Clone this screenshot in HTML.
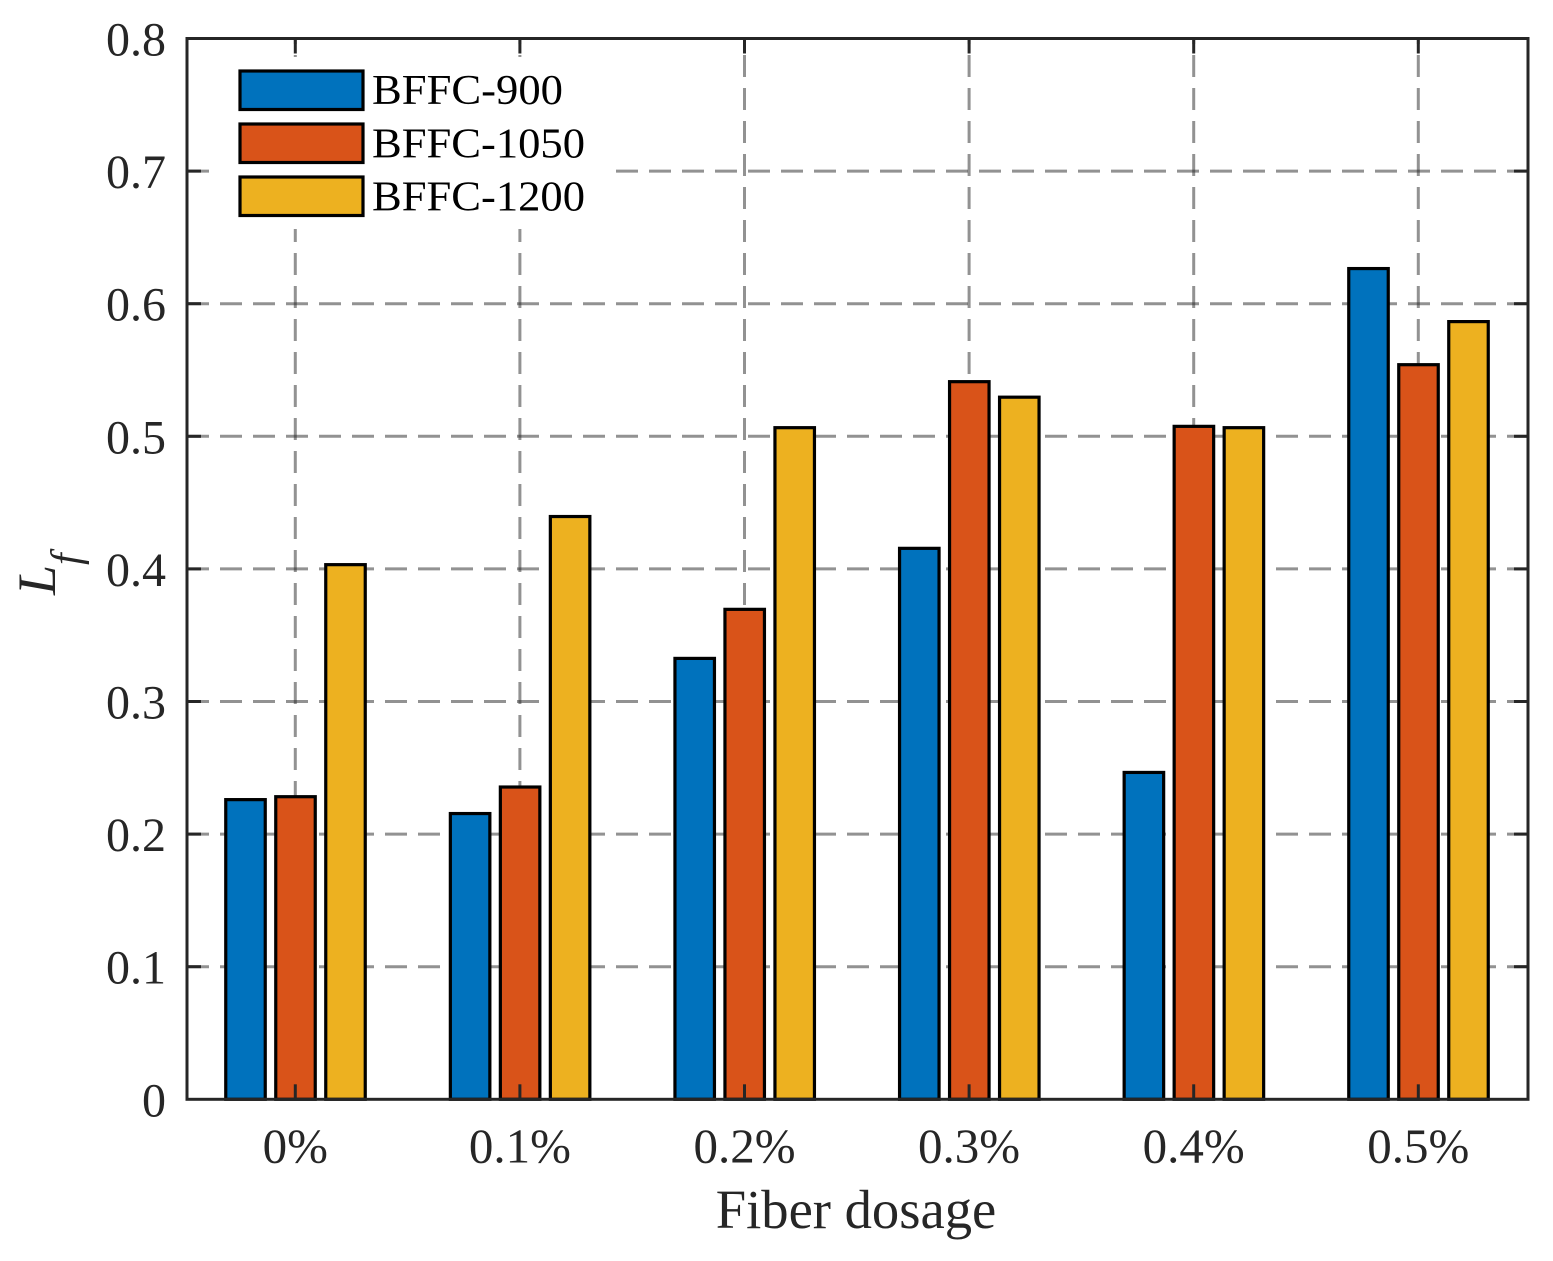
<!DOCTYPE html>
<html lang="en">
<head>
<meta charset="utf-8">
<title>Lf versus fiber dosage</title>
<style>
html,body{margin:0;padding:0;background:#fff;}
svg{display:block;}
text{font-family:"Liberation Serif","Times New Roman",serif;}
</style>
</head>
<body>
<svg id="chart" xmlns="http://www.w3.org/2000/svg" width="1553" height="1261" viewBox="0 0 1553 1261"></svg>
<script>
const categories = ['0%', '0.1%', '0.2%', '0.3%', '0.4%', '0.5%'];
const seriesNames = ['BFFC-900', 'BFFC-1050', 'BFFC-1200'];
const bffc900 = [0.226, 0.2155, 0.3325, 0.4155, 0.2465, 0.6265];
const bffc1050 = [0.2282, 0.2355, 0.3695, 0.5412, 0.5075, 0.554];
const bffc1200 = [0.4032, 0.4395, 0.5065, 0.5295, 0.5065, 0.5865];
const yTicks = [0, 0.1, 0.2, 0.3, 0.4, 0.5, 0.6, 0.7, 0.8];
const yTickLabels = ['0', '0.1', '0.2', '0.3', '0.4', '0.5', '0.6', '0.7', '0.8'];

const seriesValues = [bffc900, bffc1050, bffc1200];
const colors = ['#0072BD', '#D95319', '#EDB120'];
const NS = 'http://www.w3.org/2000/svg';
const svg = document.getElementById('chart');
const plot = { left: 187, right: 1528, top: 38.5, bottom: 1099.3 };
const yMax = 0.8;
const firstCenter = 295.5;
const catStep = 224.6;
const barOffset = 50;
const barCoreWidth = 39.5;
const tickLenX = 15;
const tickLenY = 14;
const axisColor = '#262626';

function xScale(i) { return firstCenter + catStep * i; }
function yScale(v) { return plot.bottom - (v / yMax) * (plot.bottom - plot.top); }

function make(tag, attrs, text) {
  const el = document.createElementNS(NS, tag);
  for (const k in attrs) el.setAttribute(k, attrs[k]);
  if (text !== undefined) el.textContent = text;
  svg.appendChild(el);
  return el;
}

// horizontal grid lines
yTicks.forEach(function (t) {
  if (t === 0 || t === yMax) return;
  const el = make('line', { x1: plot.left, x2: plot.right, y1: yScale(t), y2: yScale(t), stroke: axisColor, 'stroke-opacity': 0.5, 'stroke-width': 3, 'stroke-dasharray': '22 11' });
  
  
});

// vertical grid lines
categories.forEach(function (c, i) {
  const el = make('line', { x1: xScale(i) - 0.2, x2: xScale(i) - 0.2, y1: 1100, y2: plot.top, stroke: axisColor, 'stroke-opacity': 0.5, 'stroke-width': 3, 'stroke-dasharray': '22 11' });
  
  
});

// bars
seriesValues.forEach(function (vals, s) {
  vals.forEach(function (v, i) {
    const cx = xScale(i) + (s - 1) * barOffset;
    const el = make('rect', { x: cx - barCoreWidth / 2, y: yScale(v), width: barCoreWidth, height: plot.bottom - yScale(v), fill: colors[s], stroke: '#000', 'stroke-width': 3.2 });
    
    
  });
});

// legend
const legendBg = make('rect', { x: 215, y: 57, width: 397, height: 172, fill: '#fff' });


const swatchY = [71, 124, 177];
const legendBase = [104, 157.5, 210.5];
seriesNames.forEach(function (name, s) {
  const sw = make('rect', { x: 240, y: swatchY[s], width: 123, height: 38.5, fill: colors[s], stroke: '#000', 'stroke-width': 3.2 });
  
  
  const tx = make('text', { x: 372, y: legendBase[s], 'font-size': 42.5, fill: '#000', textLength: s === 0 ? 191 : 213, lengthAdjust: 'spacingAndGlyphs' }, name);
  
  
});

// axes box
const box = make('rect', { x: plot.left, y: plot.top, width: plot.right - plot.left, height: plot.bottom - plot.top, fill: 'none', stroke: axisColor, 'stroke-width': 3 });



// y ticks and labels
yTicks.forEach(function (t, i) {
  const y = yScale(t);
  if (t !== 0 && t !== yMax) {
    const l = make('line', { x1: plot.left, x2: plot.left + tickLenY, y1: y, y2: y, stroke: axisColor, 'stroke-width': 3 });
    
    
    const r = make('line', { x1: plot.right, x2: plot.right - tickLenY, y1: y, y2: y, stroke: axisColor, 'stroke-width': 3 });
    
    
  }
  const lab = make('text', { x: 166, y: y + 17, 'font-size': 48, fill: axisColor, 'text-anchor': 'end' }, yTickLabels[i]);
  
  
});

// x ticks and labels
categories.forEach(function (c, i) {
  const x = xScale(i) - 0.2;
  const b = make('line', { x1: x, x2: x, y1: plot.bottom, y2: plot.bottom - tickLenX, stroke: axisColor, 'stroke-width': 3 });
  
  
  const tp = make('line', { x1: x, x2: x, y1: plot.top, y2: plot.top + tickLenX, stroke: axisColor, 'stroke-width': 3 });
  
  
  const lab = make('text', { x: x, y: 1162.5, 'font-size': 49, fill: axisColor, 'text-anchor': 'middle' }, c);
  
  
});

// axis titles
const xTitle = make('text', { x: 856, y: 1228, 'font-size': 54.6, fill: axisColor, 'text-anchor': 'middle' }, 'Fiber dosage');



const yTitle = make('text', { transform: 'translate(55,595) rotate(-90)', 'font-size': 54, 'font-style': 'italic', fill: axisColor });


const tL = document.createElementNS(NS, 'tspan');
tL.textContent = 'L';
yTitle.appendChild(tL);
const tF = document.createElementNS(NS, 'tspan');
tF.setAttribute('font-size', '42');
tF.setAttribute('dy', '25');
tF.textContent = 'f';
yTitle.appendChild(tF);
</script>
</body>
</html>
